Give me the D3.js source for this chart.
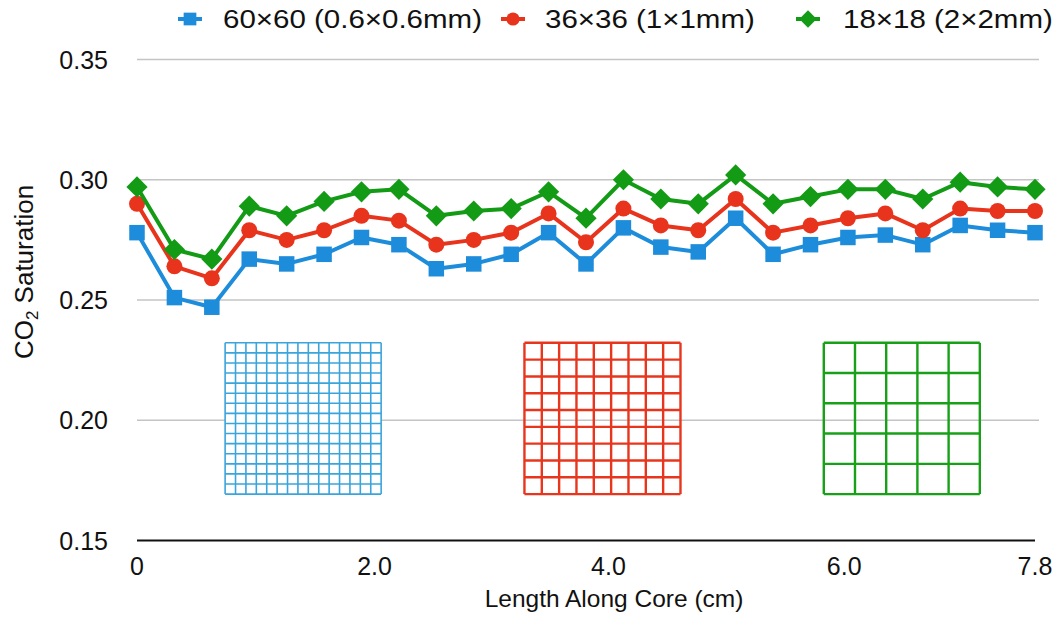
<!DOCTYPE html>
<html>
<head>
<meta charset="utf-8">
<script src="https://cdn.jsdelivr.net/npm/d3@7"></script>
<style>
  html, body { margin: 0; padding: 0; background: #fff; }
  svg { display: block; }
  text { font-family: "Liberation Sans", Arial, Helvetica, sans-serif; fill: #111; }
</style>
</head>
<body>
<svg id="chart" width="1060" height="621"></svg>
<script>
// Sample slices along the core (one per measurement position)
const slices = [0, 1, 2, 3, 4, 5, 6, 7, 8, 9, 10, 11, 12, 13, 14, 15, 16, 17, 18, 19, 20, 21, 22, 23, 24];

// CO2 saturation per slice for each grid resolution
const fine60 = [0.278, 0.251, 0.247, 0.267, 0.265, 0.269, 0.276, 0.273, 0.263, 0.265, 0.269, 0.278, 0.265,
                0.280, 0.272, 0.270, 0.284, 0.269, 0.273, 0.276, 0.277, 0.273, 0.281, 0.279, 0.278];
const mid36  = [0.290, 0.264, 0.259, 0.279, 0.275, 0.279, 0.285, 0.283, 0.273, 0.275, 0.278, 0.286, 0.274,
                0.288, 0.281, 0.279, 0.292, 0.278, 0.281, 0.284, 0.286, 0.279, 0.288, 0.287, 0.287];
const coarse18 = [0.297, 0.271, 0.267, 0.289, 0.285, 0.291, 0.295, 0.296, 0.285, 0.287, 0.288, 0.295, 0.284,
                  0.300, 0.292, 0.290, 0.302, 0.290, 0.293, 0.296, 0.296, 0.292, 0.299, 0.297, 0.296];

const seriesNames = ["60×60 (0.6×0.6mm)", "36×36 (1×1mm)", "18×18 (2×2mm)"];
const seriesColors = ["#1d8ddb", "#e8341c", "#139b16"];
const meshColors = ["#3aa4dc", "#e8361e", "#18a018"];

// Axis ticks
const yTicks = [0.15, 0.20, 0.25, 0.30, 0.35];
const xTickLabels = ["0", "2.0", "4.0", "6.0", "7.8"];
const xTickAt = [0, 6.35, 12.6, 18.9, 24];          // in slice units

// Mesh illustrations: cells per side, centre (slice units), vertical extent (saturation units)
const meshCells = [15, 9, 5];
const meshCentres = [4.44, 12.44, 20.44];
const meshHalfWidth = 2.085;
const meshTop = 0.2322, meshBottom = 0.1693;

const svg = d3.select("#chart");
const x = d3.scaleLinear().domain([0, 24]).range([137, 1035]);
const y = d3.scaleLinear().domain([0.15, 0.35]).range([540.5, 59.5]);

// Horizontal gridlines
svg.append("g").selectAll("line")
  .data(yTicks.filter(t => t > 0.15))
  .join("line")
  .attr("x1", x(0)).attr("x2", x(24) + 4)
  .attr("y1", d => y(d)).attr("y2", d => y(d))
  .attr("stroke", "#c4c4c4").attr("stroke-width", 1.3);

// Baseline axis
svg.append("line")
  .attr("x1", x(0)).attr("x2", x(24))
  .attr("y1", y(0.15)).attr("y2", y(0.15))
  .attr("stroke", "#111").attr("stroke-width", 2);

// Y tick labels
svg.append("g").selectAll("text")
  .data(yTicks)
  .join("text")
  .attr("x", 108).attr("y", d => y(d))
  .attr("dy", "0.36em")
  .attr("text-anchor", "end")
  .attr("font-size", 25)
  .text(d => d.toFixed(2));

// X tick labels
svg.append("g").selectAll("text")
  .data(xTickLabels)
  .join("text")
  .attr("x", (d, i) => x(xTickAt[i]))
  .attr("y", 575)
  .attr("text-anchor", "middle")
  .attr("font-size", 25)
  .text(d => d);

// Axis titles
svg.append("text")
  .attr("x", 614).attr("y", 607)
  .attr("text-anchor", "middle")
  .attr("font-size", 24.5)
  .text("Length Along Core (cm)");

const yTitle = svg.append("text")
  .attr("transform", "translate(33,272) rotate(-90)")
  .attr("text-anchor", "middle")
  .attr("font-size", 26);
yTitle.append("tspan").text("CO");
yTitle.append("tspan").attr("font-size", 17).attr("dy", 5).text("2");
yTitle.append("tspan").attr("dy", -5).text(" Saturation");

// Mesh illustrations
meshCells.forEach((n, i) => {
  const x0 = x(meshCentres[i] - meshHalfWidth), x1 = x(meshCentres[i] + meshHalfWidth);
  const y0 = y(meshTop), y1 = y(meshBottom);
  const g = svg.append("g");
  if (i === 0) g.append("rect").attr("x", x0).attr("y", y0)
    .attr("width", x1 - x0).attr("height", y1 - y0).attr("fill", "#fff");
  const steps = d3.range(n + 1);
  const sw = i === 0 ? 1.6 : 2.4;
  g.selectAll("line.v").data(steps).join("line")
    .attr("x1", k => x0 + (x1 - x0) * k / n).attr("x2", k => x0 + (x1 - x0) * k / n)
    .attr("y1", y0).attr("y2", y1)
    .attr("stroke", meshColors[i]).attr("stroke-width", sw);
  g.selectAll("line.h").data(steps).join("line")
    .attr("y1", k => y0 + (y1 - y0) * k / n).attr("y2", k => y0 + (y1 - y0) * k / n)
    .attr("x1", x0).attr("x2", x1)
    .attr("stroke", meshColors[i]).attr("stroke-width", sw);
});

// Series lines and markers
const allSeries = [fine60, mid36, coarse18];
const line = d3.line().x((d, i) => x(slices[i])).y(d => y(d));

function drawMarker(sel, kind, color, scale) {
  if (kind === 0) {
    const s = 15.5 * scale;
    sel.append("rect").attr("x", -s / 2).attr("y", -s / 2).attr("width", s).attr("height", s).attr("fill", color);
  } else if (kind === 1) {
    sel.append("circle").attr("r", 8 * scale).attr("fill", color);
  } else {
    sel.append("path").attr("d", d3.symbol(d3.symbolSquare, 225 * scale * scale)())
      .attr("transform", "rotate(45)").attr("fill", color);
  }
}

allSeries.forEach((vals, si) => {
  svg.append("path")
    .datum(vals)
    .attr("d", line)
    .attr("fill", "none")
    .attr("stroke", seriesColors[si])
    .attr("stroke-width", 4)
    .attr("stroke-linejoin", "round");
  svg.append("g").selectAll("g")
    .data(vals)
    .join("g")
    .attr("transform", (d, i) => `translate(${x(slices[i])},${y(d)})`)
    .each(function () { drawMarker(d3.select(this), si, seriesColors[si], 1); });
});

// Legend
const legendMarkerX = [190, 513, 808];
const legendTextX = [223, 545, 843];
seriesNames.forEach((name, i) => {
  const g = svg.append("g").attr("transform", `translate(${legendMarkerX[i]},19)`);
  g.append("line").attr("x1", -12).attr("x2", 12).attr("stroke", seriesColors[i]).attr("stroke-width", 4);
  drawMarker(g, i, seriesColors[i], 0.82);
  svg.append("text")
    .attr("transform", `translate(${legendTextX[i]},28) scale(1.18,1)`)
    .attr("font-size", 25)
    .text(name);
});
</script>
</body>
</html>
